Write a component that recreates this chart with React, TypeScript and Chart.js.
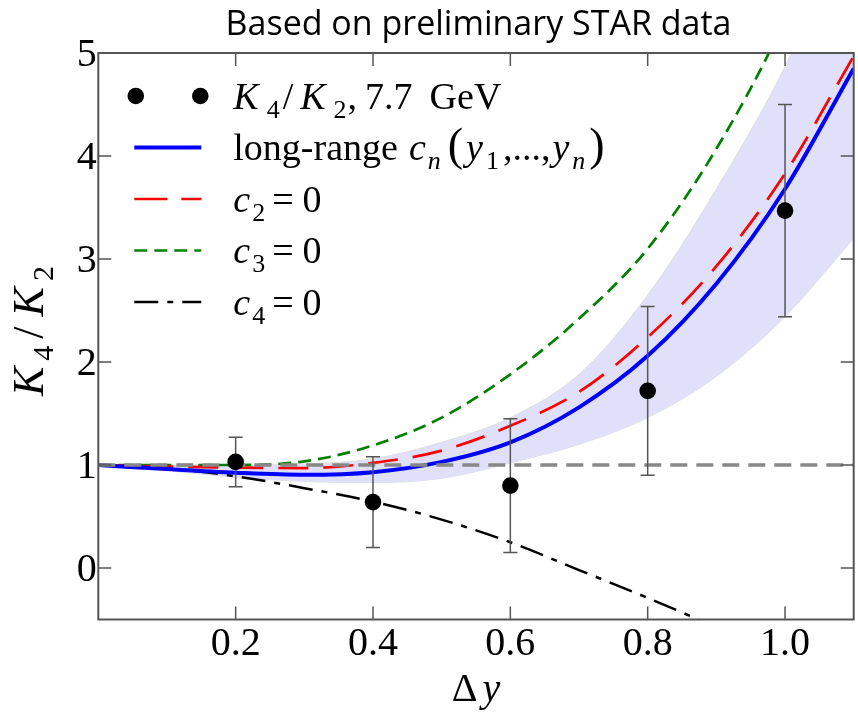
import React, { useEffect, useRef, useState } from "react";
import { Chart, registerables } from "chart.js";

Chart.register(...registerables);

// ---------- data ----------
const titleText = "Based on preliminary STAR data";

const xs = [0, 0.1, 0.2, 0.3, 0.4, 0.5, 0.6, 0.7, 0.8, 0.9, 1.0, 1.1];
const longRange = [1.0, 0.96, 0.925, 0.905, 0.93, 1.03, 1.22, 1.56, 2.06, 2.76, 3.68, 4.85];
const c2Zero = [1.0, 0.985, 0.975, 0.97, 1.02, 1.14, 1.38, 1.71, 2.24, 2.93, 3.83, 4.97];
const c3Zero = [1.0, 1.0, 1.0, 1.035, 1.19, 1.46, 1.88, 2.42, 3.1, 4.07, 5.33, 7.0];
const c4Zero = [1.0, 0.968, 0.89, 0.775, 0.645, 0.47, 0.25, -0.02, -0.29, -0.58, -0.9, -1.2];
const bandUpper = [1.0, 1.0, 1.0, 1.01, 1.06, 1.22, 1.46, 1.88, 2.65, 3.68, 4.87, 6.4];
const bandLower = [1.0, 0.945, 0.88, 0.84, 0.83, 0.87, 1.02, 1.2, 1.46, 1.86, 2.44, 3.2];

const refX = [0, 1.1];
const refY = [1, 1];

const dataX = [0.2, 0.4, 0.6, 0.8, 1.0];
const dataY = [1.03, 0.64, 0.8, 1.72, 3.47];
const dataErr = [0.24, 0.44, 0.65, 0.82, 1.03];

const xTicks = [0.2, 0.4, 0.6, 0.8, 1.0];
const yTicks = [0, 1, 2, 3, 4, 5];
const xTickLabels = xTicks.map((v) => v.toFixed(1));
const yTickLabels = yTicks.map((v) => String(v));

type Run = { t: string; it?: boolean; sub?: boolean; size?: number; gap?: number };

const legendLabels: Run[][] = [
  [
    { t: "K", it: true, gap: 8 },
    { t: "4", sub: true, gap: 3 },
    { t: "/", gap: 7 },
    { t: "K", it: true, gap: 8 },
    { t: "2", sub: true, gap: 1 },
    { t: ",", gap: 8 },
    { t: "7.7", gap: 17 },
    { t: "GeV" },
  ],
  [
    { t: "long-range", gap: 11 },
    { t: "c", it: true, gap: 2 },
    { t: "n", it: true, sub: true, gap: 7 },
    { t: "(", size: 46, gap: 3 },
    { t: "y", it: true, gap: 3 },
    { t: "1", sub: true, gap: 4 },
    { t: ",...,", gap: 2 },
    { t: "y", it: true, gap: 3 },
    { t: "n", it: true, sub: true, gap: 4 },
    { t: ")", size: 46 },
  ],
  [
    { t: "c", it: true, gap: 2 },
    { t: "2", sub: true, gap: 7 },
    { t: "=", gap: 9 },
    { t: "0" },
  ],
  [
    { t: "c", it: true, gap: 2 },
    { t: "3", sub: true, gap: 7 },
    { t: "=", gap: 9 },
    { t: "0" },
  ],
  [
    { t: "c", it: true, gap: 2 },
    { t: "4", sub: true, gap: 7 },
    { t: "=", gap: 9 },
    { t: "0" },
  ],
];

const xTitleRuns: Run[] = [{ t: "Δ", gap: 5 }, { t: "y", it: true }];
const yTitleRuns: Run[] = [
  { t: "K", it: true, gap: 6 },
  { t: "4", sub: true, gap: 7 },
  { t: "/", gap: 10 },
  { t: "K", it: true, gap: 6 },
  { t: "2", sub: true },
];

// ---------- styles ----------
const SERIF = '"Liberation Serif", "Times New Roman", serif';
const SANS = '"Open Sans", Lato, sans-serif';
const BLUE = "#0000ff";
const RED = "#ff0000";
const GREEN = "#008000";
const BLACK = "#000000";
const GRAY = "#888888";
const FRAME = "#555555";
const BAND = "rgb(224,224,250)";

const dashRed = [30, 15];
const dashGreen = [13, 7];
const dashBlack = [24, 9, 6, 9];
const dashGray = [17, 9];

type Sample = { kind: "dots" } | { kind: "line"; color: string; width: number; dash: number[] };
const legendSamples: Sample[] = [
  { kind: "dots" },
  { kind: "line", color: BLUE, width: 4, dash: [] },
  { kind: "line", color: RED, width: 2.7, dash: [33, 14] },
  { kind: "line", color: GREEN, width: 2.7, dash: dashGreen },
  { kind: "line", color: BLACK, width: 2.5, dash: dashBlack },
];

const CONTAINER_W = 858;
const CONTAINER_H = 712;
const LEGEND_BASE0 = 56;
const LEGEND_STEP = 51.5;

const POINTS_INDEX = 7;

const overlayPlugin = {
  id: "overlay",
  beforeDatasetDraw(chart: any, args: any) {
    if (args.index !== POINTS_INDEX) return;
    const { ctx, scales } = chart;
    const sx = scales.x;
    const sy = scales.y;
    ctx.save();
    ctx.strokeStyle = "#555555";
    ctx.lineWidth = 1.5;
    ctx.setLineDash([]);
    ctx.beginPath();
    dataX.forEach((xv, i) => {
      const px = sx.getPixelForValue(xv);
      const top = sy.getPixelForValue(dataY[i] + dataErr[i]);
      const bot = sy.getPixelForValue(dataY[i] - dataErr[i]);
      ctx.moveTo(px, top);
      ctx.lineTo(px, bot);
      ctx.moveTo(px - 7, top);
      ctx.lineTo(px + 7, top);
      ctx.moveTo(px - 7, bot);
      ctx.lineTo(px + 7, bot);
    });
    ctx.stroke();
    ctx.restore();
  },
  afterDraw(chart: any) {
    const { ctx, chartArea: a, scales } = chart;
    const sx = scales.x;
    const sy = scales.y;
    ctx.save();
    ctx.setLineDash([]);
    ctx.strokeStyle = FRAME;
    ctx.lineWidth = 2;
    ctx.strokeRect(a.left, a.top, a.right - a.left, a.bottom - a.top);
    ctx.lineWidth = 1.5;
    ctx.beginPath();
    for (const v of xTicks) {
      const px = sx.getPixelForValue(v);
      ctx.moveTo(px, a.bottom);
      ctx.lineTo(px, a.bottom - 13);
      ctx.moveTo(px, a.top);
      ctx.lineTo(px, a.top + 13);
    }
    for (const v of yTicks) {
      const py = sy.getPixelForValue(v);
      ctx.moveTo(a.left, py);
      ctx.lineTo(a.left + 13, py);
      ctx.moveTo(a.right, py);
      ctx.lineTo(a.right - 13, py);
    }
    ctx.stroke();

    // legend samples (legend text is an HTML overlay)
    const sx0 = a.left + 36;
    const sx1 = a.left + 103;
    legendSamples.forEach((s, i) => {
      const cy = a.top + LEGEND_BASE0 + i * LEGEND_STEP - 13;
      if (s.kind === "dots") {
        ctx.fillStyle = "#000";
        ctx.beginPath();
        ctx.arc(sx0 + 1.5, cy, 8.3, 0, Math.PI * 2);
        ctx.fill();
        ctx.beginPath();
        ctx.arc(sx1 - 1, cy, 8.3, 0, Math.PI * 2);
        ctx.fill();
      } else {
        ctx.strokeStyle = s.color;
        ctx.lineWidth = s.width;
        ctx.setLineDash(s.dash);
        ctx.beginPath();
        ctx.moveTo(sx0, cy);
        ctx.lineTo(sx1, cy);
        ctx.stroke();
        ctx.setLineDash([]);
      }
    });
    ctx.restore();
  },
};

const pts = (ys: number[]) => xs.map((x, i) => ({ x, y: ys[i] }));

function Runs({ runs, base, subSize, subDy }: { runs: Run[]; base: number; subSize: number; subDy: number }) {
  return (
    <>
      {runs.map((r, i) => (
        <span
          key={i}
          style={{
            fontStyle: r.it ? "italic" : "normal",
            fontSize: r.size ?? (r.sub ? subSize : base),
            position: "relative",
            top: r.sub ? subDy : 0,
            marginRight: r.gap ?? 0,
          }}
        >
          {r.t}
        </span>
      ))}
    </>
  );
}

type Geo = {
  left: number;
  right: number;
  top: number;
  bottom: number;
  xt: number[];
  yt: number[];
};

export default function App() {
  const ref = useRef<HTMLCanvasElement | null>(null);
  const [geo, setGeo] = useState<Geo | null>(null);

  useEffect(() => {
    if (!ref.current) return;
    const lineBase = {
      type: "line" as const,
      pointRadius: 0,
      fill: false,
      cubicInterpolationMode: "monotone" as const,
      clip: 0,
    };
    const chart = new Chart(ref.current, {
      type: "line",
      data: {
        datasets: [
          { ...lineBase, label: "band lower", data: pts(bandLower), borderColor: "#dedede", borderWidth: 1, order: 20 },
          {
            ...lineBase,
            label: "band upper",
            data: pts(bandUpper),
            borderColor: "#dedede",
            borderWidth: 1,
            fill: "-1",
            backgroundColor: BAND,
            order: 19,
          },
          { ...lineBase, label: "c4=0", data: pts(c4Zero), borderColor: BLACK, borderWidth: 2.5, borderDash: dashBlack, order: 7 },
          { ...lineBase, label: "c3=0", data: pts(c3Zero), borderColor: GREEN, borderWidth: 2.7, borderDash: dashGreen, order: 6 },
          { ...lineBase, label: "c2=0", data: pts(c2Zero), borderColor: RED, borderWidth: 2.7, borderDash: dashRed, order: 5 },
          { ...lineBase, label: "long-range", data: pts(longRange), borderColor: BLUE, borderWidth: 4, order: 4 },
          {
            ...lineBase,
            label: "reference",
            data: refX.map((x, i) => ({ x, y: refY[i] })),
            borderColor: GRAY,
            borderWidth: 3.3,
            borderDash: dashGray,
            cubicInterpolationMode: "default" as const,
            order: 3,
          },
          {
            type: "line" as const,
            label: "K4/K2, 7.7 GeV",
            data: dataX.map((x, i) => ({ x, y: dataY[i] })),
            showLine: false,
            pointRadius: 8.3,
            pointBackgroundColor: "#000",
            pointBorderWidth: 0,
            pointBorderColor: "#000",
            order: 0,
          },
        ],
      },
      options: {
        animation: false,
        responsive: false,
        devicePixelRatio: 1,
        events: [],
        layout: { padding: { left: 0, right: 3, top: 53, bottom: 0 } },
        plugins: {
          legend: { display: false },
          tooltip: { enabled: false },
          title: { display: false },
        },
        scales: {
          x: {
            type: "linear",
            min: 0,
            max: 1.1,
            afterBuildTicks: (axis: any) => {
              axis.ticks = xTicks.map((v) => ({ value: v }));
            },
            afterFit: (s: any) => {
              s.height = 92.5;
            },
            ticks: { display: false },
            grid: { display: false, drawTicks: false },
            border: { display: false },
          },
          y: {
            type: "linear",
            min: -0.5,
            max: 5,
            afterBuildTicks: (axis: any) => {
              axis.ticks = yTicks.map((v) => ({ value: v }));
            },
            afterFit: (s: any) => {
              s.width = 98.3;
            },
            ticks: { display: false },
            grid: { display: false, drawTicks: false },
            border: { display: false },
          },
        },
      },
      plugins: [overlayPlugin],
    } as any);

    const a = chart.chartArea;
    setGeo({
      left: a.left,
      right: a.right,
      top: a.top,
      bottom: a.bottom,
      xt: xTicks.map((v) => chart.scales.x.getPixelForValue(v)),
      yt: yTicks.map((v) => chart.scales.y.getPixelForValue(v)),
    });
    return () => chart.destroy();
  }, []);

  const serifBase: React.CSSProperties = {
    position: "absolute",
    fontFamily: SERIF,
    color: "#000",
    whiteSpace: "nowrap",
  };

  return (
    <div
      style={{
        position: "fixed",
        left: 0,
        top: 0,
        width: CONTAINER_W,
        height: CONTAINER_H,
        overflow: "hidden",
        background: "#fff",
      }}
    >
      <canvas ref={ref} width={862} height={712} style={{ width: 862, height: 712, display: "block" }} />
      {geo && (
        <>
          <div
            style={{
              position: "absolute",
              left: (geo.left + geo.right) / 2 + 2.5,
              top: 4.8,
              transform: "translateX(-50%)",
              fontFamily: SANS,
              fontSize: 34,
              lineHeight: "34px",
              whiteSpace: "nowrap",
              color: "#000",
            }}
          >
            {titleText}
          </div>

          {geo.xt.map((px, i) => (
            <div
              key={"xt" + i}
              style={{
                ...serifBase,
                left: px,
                top: geo.bottom + 2,
                transform: "translateX(-50%)",
                fontSize: 40,
                lineHeight: "40px",
              }}
            >
              {xTickLabels[i]}
            </div>
          ))}

          {geo.yt.map((py, i) => (
            <div
              key={"yt" + i}
              style={{
                ...serifBase,
                right: CONTAINER_W - (geo.left - 1.5),
                top: py - 20,
                textAlign: "right",
                fontSize: 40,
                lineHeight: "40px",
              }}
            >
              {yTickLabels[i]}
            </div>
          ))}

          {legendLabels.map((runs, i) => (
            <div
              key={"lg" + i}
              style={{
                ...serifBase,
                left: geo.left + 135,
                top: geo.top + LEGEND_BASE0 + i * LEGEND_STEP - 38.5,
                fontSize: 46,
                lineHeight: "46px",
              }}
            >
              <Runs runs={runs} base={38} subSize={26} subDy={9} />
            </div>
          ))}

          <div
            style={{
              ...serifBase,
              left: (geo.left + geo.right) / 2,
              top: geo.bottom + 48,
              transform: "translateX(-50%)",
              fontSize: 40,
              lineHeight: "40px",
            }}
          >
            <Runs runs={xTitleRuns} base={40} subSize={28} subDy={9} />
          </div>

          <div
            style={{
              ...serifBase,
              left: 30.6,
              top: (geo.top + geo.bottom) / 2 - 5,
              transform: "translate(-50%, -50%) rotate(-90deg)",
              fontSize: 44,
              lineHeight: "44px",
            }}
          >
            <Runs runs={yTitleRuns} base={44} subSize={30} subDy={10} />
          </div>
        </>
      )}
    </div>
  );
}
